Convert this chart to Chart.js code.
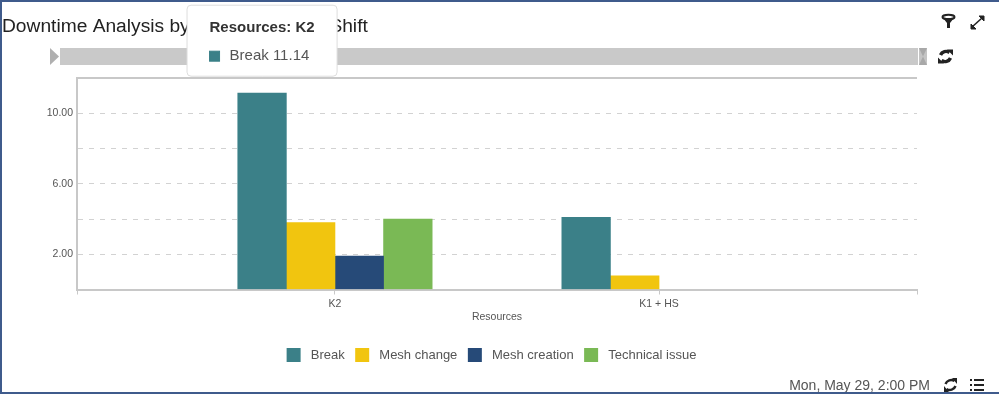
<!DOCTYPE html>
<html>
<head>
<meta charset="utf-8">
<script src="https://cdn.jsdelivr.net/npm/chart.js@4"></script>
<style>
html, body { margin: 0; padding: 0; background: #fff; overflow: hidden; }
#wrap { position: relative; width: 999px; height: 394px; font-family: "Liberation Sans", Arial, sans-serif; }
#chart { position: absolute; left: 0; top: 0; }
#frame { position: absolute; left: 0; top: 0; width: 997px; height: 390px; border: 2px solid #3f5b8c; border-right: 0; pointer-events: none; }
#slider { position: absolute; left: 60px; top: 48px; width: 858px; height: 17px; background: #c9c9c9; }
.overlay { position: absolute; left: 0; top: 0; pointer-events: none; }
#stamp { position: absolute; right: 69px; top: 377px; font-size: 14px; color: #555; }
</style>
</head>
<body>
<div id="wrap">
  <div id="slider"></div>
  <canvas id="chart" width="999" height="394"></canvas>
  <svg class="overlay" width="999" height="394">
    <!-- slider handles -->
    <polygon points="50,48 59,56.5 50,65" fill="#b0b0b0"/>
    <rect x="919" y="48" width="8" height="17" fill="#c4c4c4"/>
    <polygon points="919,48 927,48 923,56.5" fill="#a8a8a8"/>
    <polygon points="919,65 927,65 923,56.5" fill="#a8a8a8"/>
    <!-- filter -->
    <ellipse cx="948.5" cy="17" rx="6" ry="2.2" fill="none" stroke="#222" stroke-width="2"/>
    <path d="M943 18 l4 5 v5 h3 v-5 l4 -5 z" fill="#222"/>
    <!-- expand -->
    <path d="M972 27 L982 18" stroke="#222" stroke-width="1.6"/>
    <path d="M971 29 v-5 l5 5 z M984 16 v5 l-5 -5 z" fill="#222" stroke="#222"/>
    <!-- sync, top -->
    <g fill="none" stroke="#222" stroke-width="3.4">
      <path d="M940.5 55 a6 6 0 0 1 9 -2.5"/>
      <path d="M950.5 58 a6 6 0 0 1 -9 2.5"/>
    </g>
    <path d="M947 49.5 l6 0 l0 6 z M944 63.5 l-6 0 l0 -6 z" fill="#222"/>
    <!-- refresh, footer -->
    <g transform="translate(0 28)">
      <g fill="none" stroke="#222" stroke-width="2.4">
        <path d="M945.5 356 a6 6 0 0 1 9 -3"/>
        <path d="M955.5 358 a6 6 0 0 1 -9 3"/>
      </g>
      <path d="M952 350 l5 0 l0 6 z M949 364 l-5 0 l0 -6 z" fill="#222"/>
      <!-- list -->
      <g stroke="#222" stroke-width="2">
        <path d="M970 352 h2 M970 357 h2 M970 362 h2"/>
        <path d="M974 352 h10 M974 357 h10 M974 362 h10"/>
      </g>
    </g>
  </svg>
  <div id="stamp">Mon, May 29, 2:00 PM</div>
  <div id="frame"></div>
</div>
<script>
const categories = ['K2', 'K1 + HS'];
const seriesNames = ['Break', 'Mesh change', 'Mesh creation', 'Technical issue'];
const seriesColors = ['#3b8088', '#f1c50f', '#264a78', '#7ab955'];
const breakValues = [11.14, 4.1];
const meshChange = [3.8, 0.78];
const meshCreation = [1.9, null];
const technicalIssue = [4.0, null];
const yLabels = [2, 6, 10];

const seriesValues = [breakValues, meshChange, meshCreation, technicalIssue];
const axisGrey = '#c8c8c8';
const font = '"Liberation Sans", Arial, sans-serif';

// tooltip sits centred above the bar it belongs to
Chart.Tooltip.positioners.aboveBar = function (items) {
    if (!items.length) return false;
    return { x: items[0].element.x, y: items[0].element.y - 17 };
};

// legend is centred on the whole card, not on the plot
const shiftLegend = {
    id: 'shiftLegend',
    afterLayout(chart) {
        chart.legend.left += 32;
        chart.legend.right += 32;
    }
};

const chart = new Chart(document.getElementById('chart').getContext('2d'), {
    type: 'bar',
    plugins: [shiftLegend],
    data: {
        datasets: seriesNames.map((name, s) => ({
            label: name,
            data: seriesValues[s].map((v, i) => ({ x: i, y: v })),
            backgroundColor: seriesColors[s],
            barThickness: 48.6
        }))
    },
    options: {
        responsive: false,
        animation: false,
        events: [],
        layout: { padding: { left: 2, right: 82, top: 15, bottom: 22 } },
        scales: {
            x: {
                type: 'linear',
                offset: false,
                min: -0.796,
                max: 1.796,
                afterBuildTicks: scale => {
                    scale.ticks = [-0.796, 0, 1, 1.796].map(value => ({ value }));
                },
                afterFit: scale => { scale.height = 48; },
                grid: { offset: false, drawOnChartArea: false, drawTicks: true, tickLength: 5, tickColor: axisGrey, tickWidth: 1 },
                border: { color: axisGrey, width: 2 },
                ticks: {
                    autoSkip: false,
                    maxRotation: 0,
                    padding: 3.5,
                    color: '#555',
                    font: { family: font, size: 10.5 },
                    callback: value => categories[value] || ''
                },
                title: { display: true, text: 'Resources', color: '#555', font: { family: font, size: 10.5 }, padding: { top: 3, bottom: 14.5 } }
            },
            y: {
                min: 0,
                max: 12,
                afterFit: scale => { scale.width = 75; },
                grid: {
                    drawTicks: false,
                    color: ctx => ctx.tick.value === 12 ? axisGrey : '#d2d2d2',
                    lineWidth: ctx => ctx.tick.value === 12 ? 2 : 1
                },
                border: {
                    color: axisGrey,
                    width: 2,
                    dash: ctx => ctx.tick.value === 12 ? [] : [5, 6]
                },
                ticks: {
                    stepSize: 2,
                    padding: 4,
                    color: '#555',
                    font: { family: font, size: 10.5 },
                    callback: value => yLabels.includes(value) ? value.toFixed(2) : ''
                }
            }
        },
        plugins: {
            title: {
                display: true,
                text: 'Downtime Analysis by Resources and Shift',
                align: 'start',
                color: '#222',
                font: { family: font, size: 19.2, weight: 'normal' },
                padding: { top: 0, bottom: 40 }
            },
            legend: {
                position: 'bottom',
                labels: {
                    boxWidth: 14,
                    boxHeight: 14,
                    padding: 10.5,
                    color: '#555',
                    font: { family: font, size: 13 },
                    generateLabels: c => c.data.datasets.map((d, i) => ({
                        text: ' ' + d.label,
                        fillStyle: d.backgroundColor,
                        strokeStyle: d.backgroundColor,
                        fontColor: '#555',
                        lineWidth: 0,
                        datasetIndex: i
                    }))
                }
            },
            tooltip: {
                position: 'aboveBar',
                xAlign: 'center',
                yAlign: 'bottom',
                caretSize: 0,
                caretPadding: 0,
                backgroundColor: '#fff',
                borderColor: '#ddd',
                borderWidth: 1,
                cornerRadius: 4,
                padding: { left: 22.5, right: 22.5, top: 14, bottom: 11 },
                titleColor: '#333',
                titleFont: { family: font, size: 15, weight: 'bold' },
                titleMarginBottom: 10,
                bodyColor: '#555',
                bodyFont: { family: font, size: 15 },
                boxWidth: 10,
                boxHeight: 10,
                boxPadding: 8,
                multiKeyBackground: seriesColors[0],
                callbacks: {
                    title: items => 'Resources: ' + categories[items[0].parsed.x],
                    label: item => item.dataset.label + ' ' + item.parsed.y.toFixed(2),
                    labelColor: item => ({
                        borderColor: item.dataset.backgroundColor,
                        backgroundColor: item.dataset.backgroundColor,
                        borderWidth: 0
                    })
                }
            }
        }
    }
});

chart.tooltip.setActiveElements([{ datasetIndex: 0, index: 0 }], { x: 0, y: 0 });
chart.update();
</script>
</body>
</html>
